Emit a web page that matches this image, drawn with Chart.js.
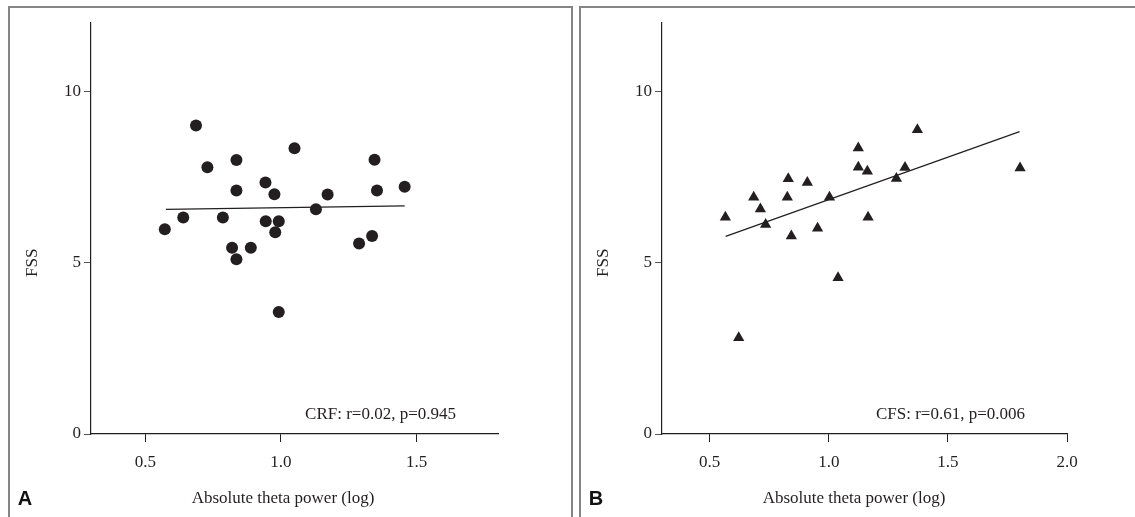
<!DOCTYPE html>
<html>
<head>
<meta charset="utf-8">
<title>FSS vs absolute theta power</title>
<script src="https://cdn.jsdelivr.net/npm/chart.js@4.4.0/dist/chart.umd.min.js"></script>
<style>
  body { margin: 0; background: #fff; width: 1135px; height: 517px; overflow: hidden; position: relative; }
  .frame { position: absolute; top: 6px; height: 540px; border: 2px solid #858585; border-bottom: none; box-sizing: border-box; }
  #frameA { left: 8px; width: 565px; }
  #frameB { left: 579px; width: 600px; }
  .wrap { position: absolute; top: 0; }
  #wrapA { left: 0; }
  #wrapB { left: 575px; }
</style>
</head>
<body>
<div class="frame" id="frameA"></div>
<div class="frame" id="frameB"></div>
<div class="wrap" id="wrapA"><canvas id="chartA" width="571" height="517"></canvas></div>
<div class="wrap" id="wrapB"><canvas id="chartB" width="560" height="517"></canvas></div>
<script>
// panel A: CRF, circles
const crfX = [0.572, 0.640, 0.687, 0.729, 0.786, 0.820, 0.836, 0.836, 0.836, 0.889, 0.943, 0.944,
              0.976, 0.979, 0.992, 0.992, 1.050, 1.129, 1.172, 1.288, 1.336, 1.345, 1.354, 1.456];
const crfY = [5.98, 6.32, 9.01, 7.79, 6.32, 5.44, 8.00, 7.11, 5.10, 5.44, 7.34, 6.21,
              7.00, 5.89, 6.21, 3.56, 8.34, 6.56, 6.99, 5.56, 5.78, 8.01, 7.11, 7.22];
const crfFitX = [0.576, 1.456];
const crfFitY = [6.56, 6.66];
const crfTicks = [0.5, 1.0, 1.5];

// panel B: CFS, triangles
const cfsX = [0.566, 0.622, 0.685, 0.713, 0.735, 0.830, 0.826, 0.843, 0.910, 0.953,
              1.003, 1.039, 1.124, 1.124, 1.162, 1.165, 1.284, 1.320, 1.372, 1.803];
const cfsY = [6.33, 2.81, 6.91, 6.57, 6.12, 7.45, 6.91, 5.78, 7.34, 6.01,
              6.91, 4.56, 8.35, 7.79, 7.67, 6.33, 7.46, 7.78, 8.88, 7.77];
const cfsFitX = [0.567, 1.801];
const cfsFitY = [5.77, 8.83];
const cfsTicks = [0.5, 1.0, 1.5, 2.0];

const yTicks = [0, 5, 10];
const xTitle = "Absolute theta power (log)";
const yTitle = "FSS";

const ink = "#231f20";
const serif = '"Liberation Serif", "Times New Roman", serif';

const toPoints = (xs, ys) => xs.map((x, i) => ({ x, y: ys[i] }));

// texts that sit off-centre in the original, placed from the chart area
const panelText = {
  id: "panelText",
  afterDraw(chart, args, opts) {
    const { ctx, chartArea } = chart;
    const yScale = chart.scales.y;
    ctx.save();
    ctx.fillStyle = ink;
    ctx.font = "17px " + serif;
    ctx.textAlign = "center";
    ctx.textBaseline = "middle";

    ctx.save();
    ctx.translate(chartArea.left - 58, yScale.getPixelForValue(5));
    ctx.rotate(-Math.PI / 2);
    ctx.fillText(yTitle, 0, 0);
    ctx.restore();

    ctx.fillText(xTitle, chartArea.left + 192, 499);

    ctx.textAlign = "right";
    ctx.fillText(opts.note, chartArea.right - 42, chartArea.bottom - 19);

    ctx.textAlign = "center";
    ctx.font = 'bold 20px "Liberation Sans", Arial, sans-serif';
    ctx.fillStyle = "#111";
    ctx.fillText(opts.letter, chartArea.left - 66, 499);
    ctx.restore();
  }
};

function makeChart(id, pts, fit, marker, xMax, xTicks, note, letter, plotLeft, plotRight) {
  const canvas = document.getElementById(id);
  return new Chart(canvas, {
    type: "scatter",
    data: {
      datasets: [
        {
          data: pts,
          pointStyle: marker,
          pointRadius: marker === "triangle" ? 6.5 : 6,
          pointBackgroundColor: ink,
          pointBorderColor: ink,
          pointBorderWidth: 0
        },
        {
          data: fit,
          showLine: true,
          borderColor: ink,
          borderWidth: 1.2,
          pointRadius: 0
        }
      ]
    },
    options: {
      responsive: false,
      animation: false,
      layout: { padding: { left: 0, top: 23, right: canvas.width - plotRight, bottom: 0 } },
      plugins: {
        legend: { display: false },
        tooltip: { enabled: false },
        panelText: { note, letter }
      },
      scales: {
        x: {
          type: "linear",
          min: 0.3,
          max: xMax,
          afterFit: s => { s.height = 83; },
          afterBuildTicks: s => { s.ticks = xTicks.map(v => ({ value: v })); },
          border: { display: true, color: ink, width: 1.2 },
          grid: { drawOnChartArea: false, drawTicks: true, tickLength: 8, color: ink },
          ticks: {
            padding: 10,
            color: ink,
            font: { family: serif, size: 17 },
            callback: v => Number(v).toFixed(1)
          }
        },
        y: {
          min: 0,
          max: 12,
          afterFit: s => { s.width = plotLeft; },
          afterBuildTicks: s => { s.ticks = yTicks.map(v => ({ value: v })); },
          border: { display: true, color: ink, width: 1.2 },
          grid: { drawOnChartArea: false, drawTicks: true, tickLength: 7, color: "#555" },
          ticks: {
            padding: 3,
            color: ink,
            font: { family: serif, size: 17 }
          }
        }
      }
    },
    plugins: [panelText]
  });
}

makeChart("chartA", toPoints(crfX, crfY), toPoints(crfFitX, crfFitY), "circle", 1.8, crfTicks,
  "CRF: r=0.02, p=0.945", "A", 91, 498);
makeChart("chartB", toPoints(cfsX, cfsY), toPoints(cfsFitX, cfsFitY), "triangle", 2.0, cfsTicks,
  "CFS: r=0.61, p=0.006", "B", 87, 492);
</script>
</body>
</html>
